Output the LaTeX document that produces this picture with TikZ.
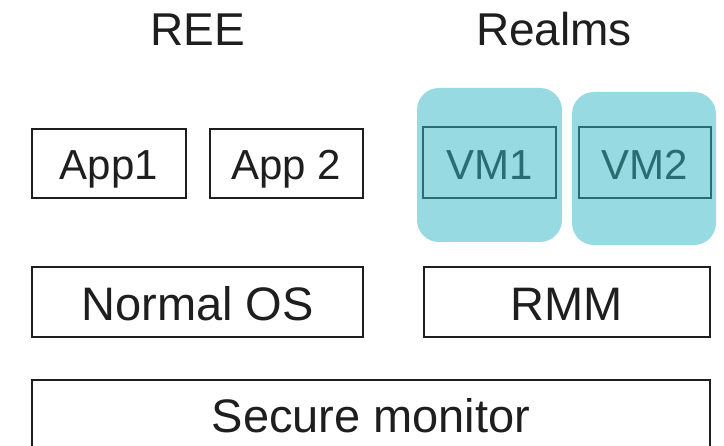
\documentclass[tikz,border=0pt]{standalone}
\usepackage{fontspec}
\setmainfont{Liberation Sans}
\definecolor{inkblack}{HTML}{1E1E1E}
\definecolor{realmfill}{HTML}{97DAE2}
\definecolor{realmline}{HTML}{2A6C72}
\begin{document}
\begin{tikzpicture}[x=1pt,y=-1pt,
  layerbox/.style={draw=inkblack,line width=2pt,inner sep=0pt,text=inkblack,
    font=\fontsize{47}{56}\selectfont,text depth=0pt},
  appbox/.style={draw=inkblack,line width=2pt,inner sep=0pt,text=inkblack,
    font=\fontsize{42}{50}\selectfont,text depth=0pt,text height=33pt,
    minimum width=154pt,minimum height=69pt},
  vmback/.style={fill=realmfill,draw=none,rounded corners=22pt,inner sep=0pt},
  vmbox/.style={draw=realmline,line width=2pt,inner sep=0pt,text=realmline,
    font=\fontsize{42}{50}\selectfont,text depth=0pt,text height=35pt,
    minimum width=133pt,minimum height=71pt},
  title/.style={anchor=base,inner sep=0pt,text=inkblack,font=\fontsize{46}{55}\selectfont}]
  \useasboundingbox (0,0) rectangle (724,446);
  \clip (0,0) rectangle (724,446);

  % world titles
  \node[title] (ree) at (197.5,46) {REE};
  \node[title] (realms) at (554,46) {Realms};

  % normal world applications
  \node[appbox] (app1) at (109,163.5) {App1};
  \node[appbox,minimum width=153pt] (app2) at (286.5,163.5) {App 2};

  % realm VMs on their rounded backgrounds
  \node[vmback,minimum width=145pt,minimum height=154pt] (vm1bg) at (489.5,165) {};
  \node[vmback,minimum width=144pt,minimum height=153pt] (vm2bg) at (644,168.5) {};
  \node[vmbox] (vm1) at (489.5,162.5) {VM1};
  \node[vmbox,minimum width=132pt] (vm2) at (645,162.5) {VM2};

  % kernels
  \node[layerbox,text height=38pt,minimum width=331pt,minimum height=70pt]
    (nos) at (197.5,302) {Normal OS};
  \node[layerbox,text height=38pt,minimum width=286pt,minimum height=70pt]
    (rmm) at (567,302) {RMM};

  % monitor layer, running off the bottom edge
  \node[layerbox,text height=0pt,minimum width=678pt,minimum height=106pt]
    (mon) at (371,433) {Secure monitor};
\end{tikzpicture}
\end{document}
